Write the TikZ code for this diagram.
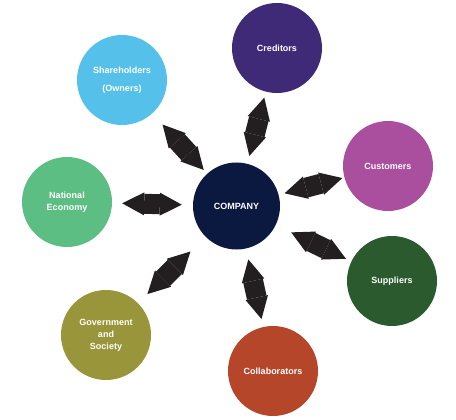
\documentclass[tikz,border=0pt]{standalone}
\usepackage{fontspec}
\setmainfont{Liberation Sans}
\usepackage{xcolor}
\usetikzlibrary{arrows.meta}
\definecolor{companyblue}{HTML}{0B1840}
\definecolor{creditpurple}{HTML}{3F2A78}
\definecolor{ownerblue}{HTML}{55C1EA}
\definecolor{customerpink}{HTML}{AA4E9E}
\definecolor{supplygreen}{HTML}{2B5A2E}
\definecolor{govolive}{HTML}{99953A}
\definecolor{collabred}{HTML}{B5462A}
\definecolor{nationgreen}{HTML}{5DBE83}
\definecolor{arrowgrey}{HTML}{231F20}
\tikzset{
    party/.style={circle, inner sep=0pt, minimum size=90pt, align=center,
                  text=white, font=\bfseries\fontsize{9}{12}\selectfont},
    link/.style={draw=arrowgrey, line width=20pt,
                 {Triangle[length=22pt, width=23pt, line width=0pt]}-{Triangle[length=22pt, width=23pt, line width=0pt]}},
}

\begin{document}
\begin{tikzpicture}[x=1pt, y=-1pt]
    \useasboundingbox (0,0) rectangle (456,420);

    \node[party, fill=companyblue, minimum size=87pt] (company) at (236.5,206) {COMPANY};
    \node[party, fill=creditpurple]  (cred)   at (277,48)  {Creditors};
    \node[party, fill=ownerblue]     (owners) at (122,80)  {Shareholders\\[6pt](Owners)};
    \node[party, fill=customerpink]  (cust)   at (388,166) {Customers};
    \node[party, fill=nationgreen]   (nation) at (67,202)  {National\\Economy};
    \node[party, fill=supplygreen]   (supp)   at (392,281) {Suppliers};
    \node[party, fill=govolive]      (gov)    at (106,335) {Government\\and\\Society};
    \node[party, fill=collabred]     (collab) at (273,371) {Collaborators};

    \draw[link, shorten <=8pt,  shorten >=6pt]  (company) -- (cred);
    \draw[link, shorten <=5pt,  shorten >=15pt] (company) -- (owners);
    \draw[link, shorten <=6pt,  shorten >=2pt]  (company) -- (cust);
    \draw[link, shorten <=11pt, shorten >=10pt] (company) -- (nation);
    \draw[link, shorten <=17pt, shorten >=6pt]  (company) -- (supp);
    \draw[link, shorten <=21pt, shorten >=13pt] (company) -- (gov);
    \draw[link, shorten <=11pt, shorten >=8pt]  (company) -- (collab);
\end{tikzpicture}
\end{document}
